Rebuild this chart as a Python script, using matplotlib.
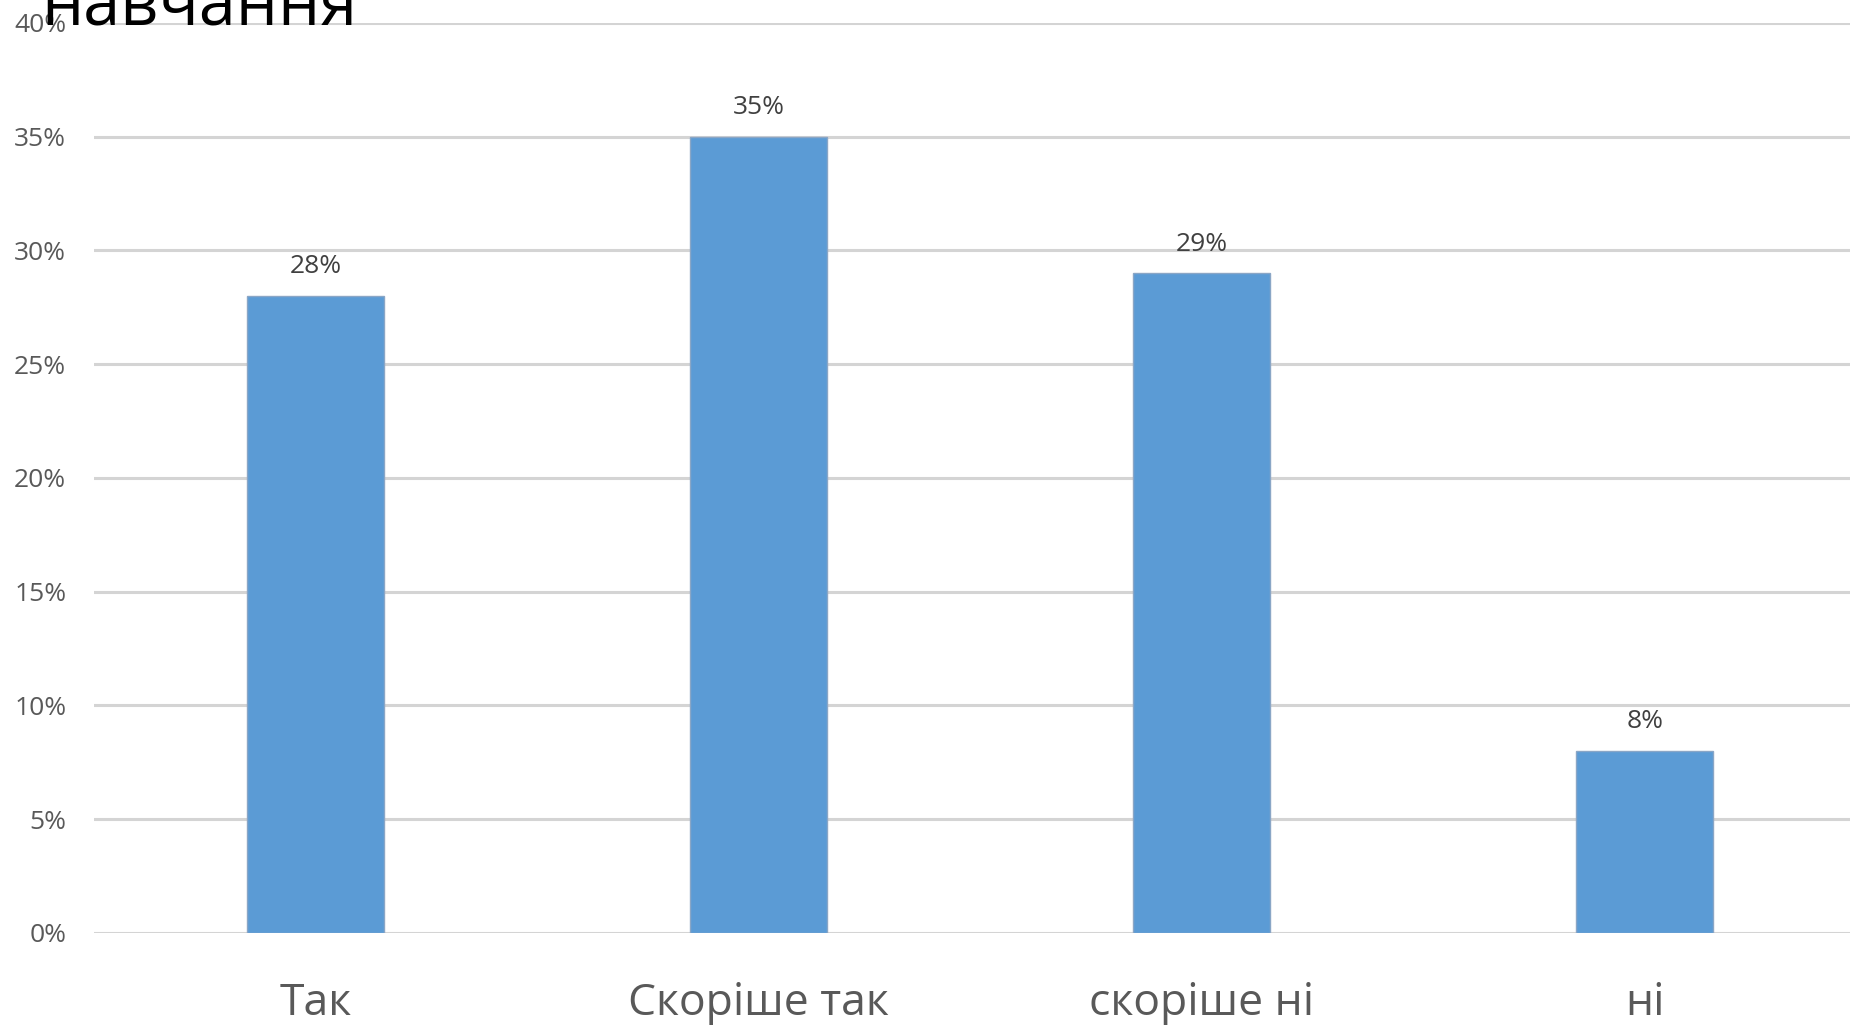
import matplotlib.pyplot as plt
from matplotlib.ticker import FuncFormatter

categories = ["Так", "Скоріше так", "скоріше ні", "ні"]
shares = [28, 35, 29, 8]
y_ticks = [0, 5, 10, 15, 20, 25, 30, 35, 40]

plt.rcParams["font.family"] = ["Open Sans", "DejaVu Sans"]

fig = plt.figure(figsize=(18.5, 10.25), dpi=100)
fig.patch.set_facecolor("white")
ax = fig.add_axes([0.0508, 0.0898, 0.958, 0.8878])

x = range(len(categories))
bars = ax.bar(x, shares, width=0.31, color="#5B9BD5", edgecolor="#8aa6c6",
              linewidth=1, zorder=3)

ax.set_xlim(-0.5, 3.5)
ax.set_ylim(0, 40)
ax.set_yticks(y_ticks)
ax.yaxis.set_major_formatter(FuncFormatter(lambda v, _: f"{v:.0f}%"))
ax.grid(True, axis="y", color="#d4d4d4", linewidth=2.2, zorder=0)
ax.set_axisbelow(True)
for s in ax.spines.values():
    s.set_visible(False)
ax.tick_params(axis="y", length=0, labelsize=19, labelcolor="#595959", pad=20)
ax.set_xticks(list(x))
ax.set_xticklabels(categories)
ax.tick_params(axis="x", length=0, labelsize=32, labelcolor="#595959", pad=35)

for b, v in zip(bars, shares):
    ax.annotate(f"{v}%", (b.get_x() + b.get_width() / 2, v), xytext=(0, 21),
                textcoords="offset points", ha="center", va="center",
                fontsize=19, color="#404040")

fig.text(0.0225, 0.9756, "навчання", fontsize=48, color="black",
         ha="left", va="baseline")

fig.savefig("out.png", dpi=100)
